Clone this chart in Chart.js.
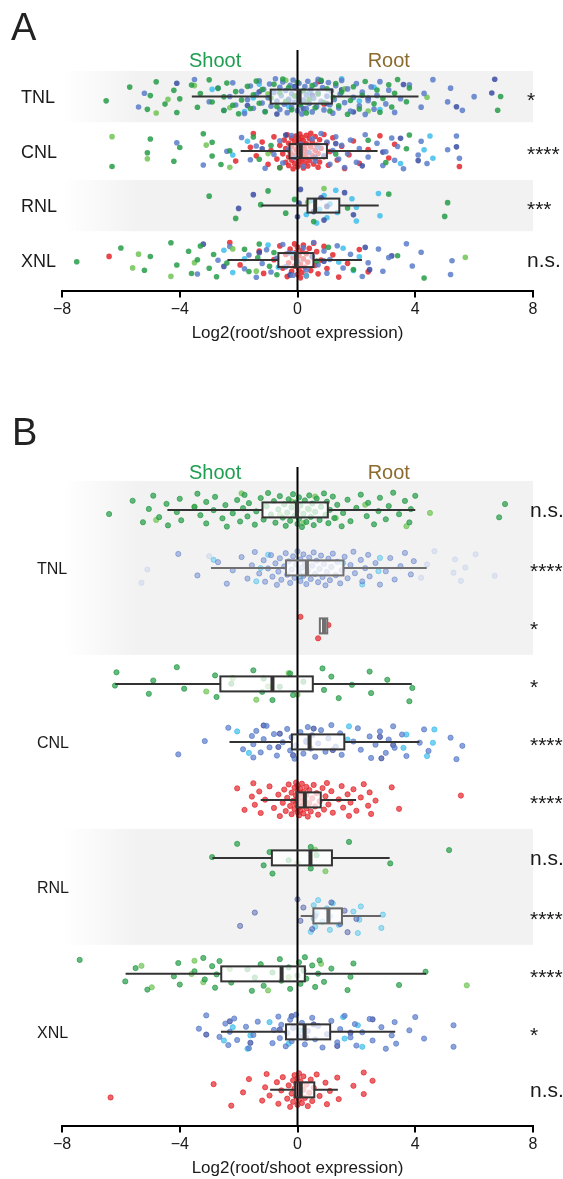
<!DOCTYPE html>
<html>
<head>
<meta charset="utf-8">
<title>Log2 root/shoot expression</title>
<script src="https://cdn.jsdelivr.net/npm/chart.js@4.4.1/dist/chart.umd.min.js"></script>
<style>
  body { margin: 0; background: #fff; }
  #wrap { position: relative; width: 563px; height: 1179px; }
  canvas { position: absolute; left: 0; }
  #chartA { top: 0; }
  #chartB { top: 400px; }
</style>
</head>
<body>
<div id="wrap">
  <canvas id="chartA" width="563" height="344"></canvas>
  <canvas id="chartB" width="563" height="779"></canvas>
</div>
<script>
// ---- Panel A: all genes, one row per NLR class ----
const aRowLabels = ['TNL', 'CNL', 'RNL', 'XNL'];
const aSignif = ['*', '****', '***', 'n.s.'];
// whisker low, Q1, median, Q3, whisker high
const aBoxStats = [
  [-3.59, -0.91, 0.07, 1.17, 4.11],
  [-1.93, -0.27, 0.11, 1.0, 2.72],
  [-1.23, 0.34, 0.6, 1.42, 2.76],
  [-2.38, -0.65, -0.05, 0.54, 2.19]
];

const aTnlGreen = [-6.5, -5.7, -5.1, -5.0, -4.8, -4.5, -4.2, -4.1, -4.0, -3.6, -3.4, -3.3, -3.0, -2.9, -2.7, -2.5, -2.5, -2.4, -2.2, -2.1, -2.0, -1.9, -1.7, -1.6, -1.5, -1.4, -1.3, -1.2, -1.1, -0.9, -0.8, -0.7, -0.6, -0.5, -0.4, -0.3, -0.2, -0.1, 0.0, 0.1, 0.2, 0.3, 0.4, 0.5, 0.6, 0.7, 0.8, 0.9, 1.0, 1.1, 1.2, 1.3, 1.4, 1.5, 1.7, 1.8, 1.9, 2.1, 2.2, 2.3, 2.6, 2.7, 2.8, 2.9, 3.1, 3.2, 3.3, 3.4, 3.7, 3.8, 6.8, 6.9];
const aTnlLime = [-4.8, -4.4, -3.5, -2.3, -1.0, -0.4, 0.3, 1.6, 2.4, 4.4];
const aTnlBlue = [-5.4, -5.2, -3.5, -3.0, -2.7, -2.5, -2.3, -2.2, -2.1, -1.9, -1.8, -1.7, -1.6, -1.5, -1.4, -1.3, -1.2, -1.15, -1.1, -1.0, -0.95, -0.9, -0.8, -0.75, -0.7, -0.6, -0.6, -0.55, -0.5, -0.45, -0.4, -0.35, -0.3, -0.25, -0.2, -0.2, -0.15, -0.1, -0.05, 0.0, 0.0, 0.05, 0.1, 0.1, 0.15, 0.2, 0.25, 0.3, 0.3, 0.35, 0.4, 0.45, 0.5, 0.55, 0.6, 0.65, 0.7, 0.7, 0.8, 0.85, 0.9, 1.0, 1.05, 1.1, 1.15, 1.2, 1.25, 1.3, 1.4, 1.45, 1.5, 1.6, 1.7, 1.8, 1.9, 2.0, 2.1, 2.2, 2.3, 2.4, 2.5, 2.6, 2.7, 2.8, 3.0, 3.1, 3.3, 3.5, 3.8, 4.2, 4.3, 4.6, 5.1, 5.2, 5.6, 6.0];
const aTnlNavy = [-4.1, -1.7, -1.3, -0.7, -0.3, -0.1, 0.2, 0.5, 0.8, 1.0, 1.5, 1.9, 2.4, 3.6, 5.4, 6.6, 6.7];
const aTnlCyan = [-2.9, -1.8, -1.5, -1.3, -0.3, 0.4, 1.5, 2.1, 2.6, 2.8];
const aTnlRed = [0.0, 0.7, 0.9];

const aCnlGreen = [-6.3, -5.1, -5.0, -4.2, -4.0, -3.2, -2.9, -2.9, -2.6, -2.3, -1.5, -1.3, -0.9, -0.6, 1.3, 2.4, 3.0, 3.7, 3.8];
const aCnlLime = [-6.3, -5.1, -3.1, -2.3, -1.0];
const aCnlBlue = [-4.1, -3.2, -2.4, -1.9, -1.6, -1.4, -1.1, -0.8, -0.6, -0.5, -0.3, -0.2, -0.1, 0.1, 0.2, 0.4, 0.5, 0.6, 0.7, 0.8, 0.9, 1.0, 1.1, 1.2, 1.3, 1.4, 1.5, 1.6, 1.7, 1.8, 2.0, 2.1, 2.3, 2.4, 2.7, 2.9, 3.0, 3.2, 3.3, 3.4, 3.6, 4.1, 4.2, 4.4, 5.1, 5.4, 5.5];
const aCnlNavy = [-1.2, -0.4, 0.6, 1.3, 2.2, 2.9, 3.5, 4.1, 5.4];
const aCnlCyan = [-2.2, -1.7, 3.5, 4.3, 4.5, 4.6];
const aCnlRed = [-2.1, -1.6, -1.5, -1.4, -1.2, -1.0, -0.9, -0.8, -0.7, -0.6, -0.6, -0.5, -0.45, -0.4, -0.4, -0.35, -0.3, -0.3, -0.3, -0.25, -0.2, -0.2, -0.2, -0.15, -0.15, -0.1, -0.1, -0.05, -0.05, 0.0, 0.0, 0.0, 0.02, 0.05, 0.05, 0.05, 0.08, 0.1, 0.1, 0.1, 0.12, 0.15, 0.15, 0.18, 0.2, 0.2, 0.2, 0.25, 0.25, 0.3, 0.3, 0.3, 0.35, 0.35, 0.4, 0.4, 0.45, 0.45, 0.5, 0.5, 0.55, 0.6, 0.6, 0.6, 0.65, 0.7, 0.7, 0.75, 0.75, 0.8, 0.9, 0.9, 1.0, 1.05, 1.1, 1.2, 1.35, 1.5, 1.6, 1.75, 1.9, 2.1, 2.4, 2.8, 3.1, 3.3, 5.5];

const aRnlGreen = [-3.0, -2.1, -1.25, -1.0, -0.4, -0.1, 0.55, 1.7, 3.1, 5.0, 5.1];
const aRnlLime = [0.35, 0.9];
const aRnlNavy = [-2.0, -1.5, 0.0, 0.05, 0.1, 0.55, 0.8, 0.9, 1.0, 1.6, 1.9];
const aRnlCyan = [0.3, 0.45, 0.65, 0.75, 0.9, 1.0, 1.1, 1.3, 1.35, 1.85, 2.0, 2.0, 2.75, 2.8];

const aXnlGreen = [-7.5, -6.0, -5.2, -5.0, -4.3, -4.1, -3.7, -3.6, -3.4, -3.3, -3.0, -2.85, -2.75, -2.4, -1.8, -1.65, -1.35, -1.3, -0.95, -0.8, -0.7, 0.65, 1.05, 1.9, 3.4, 4.3];
const aXnlLime = [-5.6, -5.4, -4.3, -3.5, -2.2, -1.4, 5.7];
const aXnlBlue = [-3.4, -2.7, -2.3, -1.8, -1.65, -1.4, -1.2, -1.05, -0.9, -0.7, -0.5, -0.4, -0.3, -0.15, 0.0, 0.2, 0.3, 0.5, 0.55, 0.7, 0.9, 1.0, 1.1, 1.35, 1.55, 1.8, 2.2, 2.4, 2.75, 2.9, 3.1, 3.7, 3.9, 4.2, 5.2, 5.25];
const aXnlNavy = [-3.2, -2.5, -1.3, -0.25, 0.9, 2.3, 2.45, 3.2];
const aXnlCyan = [-2.5, -2.2, -1.8, -1.0, -0.65, -0.15, 0.3, 1.4, 1.55, 1.9, 2.1];
const aXnlRed = [-6.4, -2.3, -1.95, -1.3, -1.15, -0.8, -0.6, -0.5, -0.4, -0.35, -0.3, -0.25, -0.2, -0.15, -0.1, -0.1, -0.05, 0.0, 0.0, 0.0, 0.05, 0.05, 0.1, 0.1, 0.15, 0.15, 0.2, 0.2, 0.25, 0.3, 0.3, 0.35, 0.4, 0.45, 0.5, 0.55, 0.6, 0.65, 0.7, 0.8, 0.9, 1.0, 1.2, 1.4, 1.7, 2.1, 2.4];

// ---- Panel B: split by species group, three rows per class (RNL has two) ----
const bGroupLabels = ['TNL', 'CNL', 'RNL', 'XNL'];
const bGroupRows = [1, 4, 6.5, 9];
const bSignif = ['n.s.', '****', '*', '*', '****', '****', 'n.s.', '****', '****', '*', 'n.s.'];
const bBoxStats = [
  [-4.42, -1.19, -0.02, 1.03, 4.0],
  [-2.94, -0.39, 0.32, 1.56, 4.39],
  [0.76, 0.76, 0.9, 1.01, 1.01],
  [-6.19, -2.62, -0.85, 0.52, 3.88],
  [-2.31, -0.19, 0.41, 1.59, 4.14],
  [-1.25, -0.03, 0.25, 0.79, 1.99],
  [-2.89, -0.87, 0.44, 1.17, 3.13],
  [0.11, 0.54, 1.05, 1.51, 2.83],
  [-5.84, -2.59, -0.54, 0.25, 4.37],
  [-2.6, -0.39, 0.24, 1.11, 3.32],
  [-0.93, -0.08, 0.11, 0.57, 1.37]
];

const bTnlGreen = [-6.4, -5.6, -5.25, -5.05, -4.9, -4.7, -4.45, -4.4, -4.1, -4.0, -3.95, -3.5, -3.4, -3.3, -3.1, -3.1, -2.85, -2.8, -2.55, -2.45, -2.4, -2.2, -2.05, -1.95, -1.85, -1.8, -1.7, -1.65, -1.45, -1.4, -1.25, -1.15, -1.05, -1.0, -0.9, -0.8, -0.75, -0.65, -0.6, -0.5, -0.45, -0.4, -0.35, -0.3, -0.25, -0.2, -0.15, -0.1, -0.05, 0.0, 0.0, 0.05, 0.05, 0.1, 0.15, 0.2, 0.25, 0.3, 0.35, 0.4, 0.45, 0.5, 0.55, 0.6, 0.65, 0.75, 0.8, 0.9, 0.95, 1.0, 1.05, 1.1, 1.2, 1.25, 1.35, 1.5, 1.55, 1.7, 1.8, 2.0, 2.15, 2.35, 2.4, 2.6, 2.75, 2.8, 3.0, 3.1, 3.25, 3.45, 3.65, 3.8, 3.85, 4.0, 6.85, 7.05];
const bTnlLime = [-4.8, -3.5, -1.9, -0.6, -0.2, 0.2, 0.4, 0.6, 1.3, 2.3, 3.7, 4.5];
const bTnlBlue = [-4.05, -3.4, -2.7, -2.4, -2.2, -1.9, -1.7, -1.55, -1.45, -1.3, -1.15, -1.1, -1.0, -0.9, -0.85, -0.75, -0.7, -0.65, -0.6, -0.55, -0.45, -0.4, -0.35, -0.3, -0.25, -0.2, -0.15, -0.1, -0.05, 0.0, 0.05, 0.1, 0.1, 0.15, 0.2, 0.2, 0.25, 0.3, 0.35, 0.4, 0.45, 0.5, 0.55, 0.6, 0.65, 0.7, 0.75, 0.8, 0.85, 0.9, 0.95, 1.0, 1.05, 1.1, 1.15, 1.2, 1.3, 1.35, 1.45, 1.5, 1.6, 1.7, 1.8, 1.9, 1.95, 2.15, 2.2, 2.3, 2.4, 2.45, 2.65, 2.8, 3.0, 3.15, 3.3, 3.5, 3.65, 3.85, 3.95];
const bTnlCyan = [-2.85, -1.4, -1.25, -1.0, 0.1, 1.55, 2.2, 2.75, 2.8];
const bTnlPale = [-5.3, -5.1, -3.0, 4.2, 4.4, 4.65, 5.3, 5.35, 5.55, 5.7, 6.05, 6.7];
const bTnlRed = [0.1, 0.7, 1.05];

const bCnlGreen = [-6.2, -6.15, -5.05, -4.9, -4.1, -3.85, -2.8, -2.75, -2.25, -1.5, -1.2, -1.15, -0.85, -0.6, -0.25, -0.15, 0.2, 0.85, 0.9, 1.15, 1.4, 1.85, 2.45, 2.5, 3.05, 3.8, 3.9];
const bCnlLime = [-3.1, -2.2, -1.4, -1.0, -0.3, 0.0];
const bCnlBlue = [-4.05, -3.15, -2.35, -1.85, -1.55, -1.5, -1.5, -1.4, -1.25, -1.15, -1.05, -0.95, -0.8, -0.7, -0.5, -0.35, -0.25, -0.2, -0.1, -0.05, 0.1, 0.2, 0.3, 0.35, 0.45, 0.5, 0.6, 0.7, 0.8, 0.95, 1.05, 1.15, 1.3, 1.45, 1.5, 1.9, 2.05, 2.15, 2.45, 2.5, 2.65, 2.8, 3.0, 3.1, 3.25, 3.3, 3.55, 3.7, 4.15, 4.3, 4.45, 5.2, 5.4, 5.6];
const bCnlNavy = [-1.15, -0.65, -0.6, -0.15, 0.3, 0.55, 1.2, 2.8, 2.85, 3.25];
const bCnlCyan = [-2.05, -1.65, 1.7, 1.75, 3.6, 3.7, 4.4, 4.6, 4.65];
const bCnlRed = [-2.05, -1.8, -1.55, -1.5, -1.45, -1.3, -1.25, -1.1, -0.95, -0.8, -0.65, -0.6, -0.5, -0.45, -0.4, -0.35, -0.3, -0.25, -0.2, -0.2, -0.15, -0.1, -0.1, -0.05, -0.05, -0.05, 0.0, 0.0, 0.0, 0.0, 0.05, 0.05, 0.05, 0.1, 0.1, 0.1, 0.15, 0.15, 0.2, 0.2, 0.2, 0.25, 0.3, 0.3, 0.3, 0.35, 0.4, 0.4, 0.45, 0.5, 0.55, 0.6, 0.65, 0.7, 0.75, 0.85, 0.9, 0.95, 1.0, 1.05, 1.15, 1.2, 1.4, 1.5, 1.55, 1.7, 1.75, 1.8, 1.9, 2.0, 2.15, 2.25, 2.4, 2.45, 2.5, 2.65, 3.2, 3.45, 5.55];

const bRnlGreen = [-2.9, -2.05, -1.15, -0.95, -0.85, -0.3, 0.45, 0.45, 0.65, 1.75, 3.15, 5.15];
const bRnlLime = [0.0, 0.6, 0.95];
const bRnlNavy = [-1.95, -1.45, 0.0, 0.1, 0.2, 0.5, 0.6, 1.15, 1.45, 1.6, 1.7, 2.0];
const bRnlCyan = [0.45, 0.55, 0.55, 0.6, 0.65, 0.7, 0.85, 1.0, 1.1, 1.1, 1.2, 1.4, 1.9, 2.05, 2.1, 2.15, 2.85, 2.9];

const bXnlGreen = [-7.4, -5.85, -5.5, -5.1, -4.2, -4.05, -4.0, -3.5, -3.2, -3.15, -2.9, -2.8, -2.75, -2.65, -2.25, -1.7, -1.55, -1.45, -1.25, -1.15, -0.85, -0.6, -0.55, -0.3, -0.25, 0.0, 0.05, 0.1, 0.2, 0.25, 0.3, 0.5, 0.6, 0.7, 0.75, 0.9, 1.15, 1.7, 1.8, 1.9, 3.45, 4.35];
const bXnlLime = [-5.3, -4.95, -3.6, -3.5, -3.2, -2.3, -1.0, -0.3, 0.8, 5.75];
const bXnlBlue = [-3.35, -3.1, -2.65, -2.45, -2.35, -2.3, -2.15, -2.05, -1.75, -1.65, -1.5, -1.35, -0.85, -0.8, -0.65, -0.6, -0.55, -0.4, -0.35, -0.25, -0.2, -0.15, -0.05, 0.05, 0.15, 0.25, 0.35, 0.5, 0.6, 0.7, 0.85, 1.0, 1.15, 1.35, 1.45, 1.6, 1.8, 1.95, 2.0, 2.2, 2.45, 2.55, 2.85, 3.0, 3.2, 3.3, 3.35, 3.8, 4.0, 4.3, 5.3, 5.3];
const bXnlNavy = [-3.1, -2.3, -1.6, -0.6, -0.2, 0.3, 0.55, 1.35, 1.8, 2.55];
const bXnlCyan = [-2.5, -2.2, -1.7, -1.6, -0.95, -0.3, 0.1, 1.55, 1.6, 2.05, 2.2];
const bXnlRed = [-6.35, -2.85, -2.25, -1.85, -1.65, -1.2, -1.1, -1.05, -0.95, -0.7, -0.65, -0.55, -0.5, -0.35, -0.3, -0.25, -0.2, -0.15, -0.15, -0.1, -0.1, -0.05, -0.05, 0.0, 0.0, 0.0, 0.05, 0.05, 0.05, 0.1, 0.1, 0.15, 0.2, 0.2, 0.25, 0.3, 0.35, 0.4, 0.45, 0.5, 0.55, 0.65, 0.75, 0.95, 1.0, 1.1, 1.35, 1.4, 1.9, 2.25, 2.25, 2.55];

// rows -> colour groups
const aRows = [
  [['green', aTnlGreen], ['blue', aTnlBlue], ['lime', aTnlLime], ['navy', aTnlNavy], ['cyan', aTnlCyan], ['red', aTnlRed]],
  [['green', aCnlGreen], ['lime', aCnlLime], ['blue', aCnlBlue], ['navy', aCnlNavy], ['cyan', aCnlCyan], ['red', aCnlRed]],
  [['green', aRnlGreen], ['lime', aRnlLime], ['navy', aRnlNavy], ['cyan', aRnlCyan]],
  [['green', aXnlGreen], ['lime', aXnlLime], ['blue', aXnlBlue], ['navy', aXnlNavy], ['cyan', aXnlCyan], ['red', aXnlRed]]
];
const bRows = [
  [['green', bTnlGreen], ['lime', bTnlLime]],
  [['pale', bTnlPale], ['blue', bTnlBlue], ['cyan', bTnlCyan]],
  [['red', bTnlRed]],
  [['green', bCnlGreen], ['lime', bCnlLime]],
  [['blue', bCnlBlue], ['navy', bCnlNavy], ['cyan', bCnlCyan]],
  [['red', bCnlRed]],
  [['green', bRnlGreen], ['lime', bRnlLime]],
  [['navy', bRnlNavy], ['cyan', bRnlCyan]],
  [['green', bXnlGreen], ['lime', bXnlLime]],
  [['blue', bXnlBlue], ['navy', bXnlNavy], ['cyan', bXnlCyan]],
  [['red', bXnlRed]]
];

const palette = {
  green: [38, 156, 72],
  lime: [112, 196, 86],
  blue: [90, 124, 202],
  navy: [58, 78, 162],
  cyan: [62, 190, 236],
  red: [228, 38, 44],
  pale: [196, 208, 236]
};
const rgba = (c, a) => `rgba(${c[0]},${c[1]},${c[2]},${a})`;

// strip-plot jitter: a fixed low-discrepancy offset per point index (layout only)
function jitter(i, seed, half) {
  return ((((i + 1) * 0.6180339887 + seed) % 1) - 0.5) * 2 * half;
}

function buildDatasets(rows, half, radius, alphaFor, border) {
  const out = [];
  rows.forEach((groups, r) => {
    groups.forEach(([col, vals], g) => {
      const a = alphaFor(r);
      out.push({
        data: vals.map((v, i) => ({ x: v, y: r + jitter(i, r * 0.31 + g * 0.17, half) })),
        backgroundColor: rgba(palette[col], a),
        borderColor: rgba(palette[col], Math.min(1, a + 0.2)),
        borderWidth: border,
        pointRadius: radius,
        pointHoverRadius: radius
      });
    });
  });
  return out;
}

const font = 'Liberation Sans, Arial, Helvetica, sans-serif';
Chart.defaults.font.family = font;

const stripDecor = {
  id: 'stripDecor',
  beforeDatasetsDraw(chart, args, o) {
    const { ctx, chartArea: a, scales: { y } } = chart;
    ctx.save();
    o.bands.forEach(([r0, r1]) => {
      const t = y.getPixelForValue(r0), b = y.getPixelForValue(r1);
      const g = ctx.createLinearGradient(a.left, 0, a.left + 75, 0);
      g.addColorStop(0, 'rgba(242,242,242,0)');
      g.addColorStop(1, 'rgba(242,242,242,1)');
      ctx.fillStyle = g;
      ctx.fillRect(a.left, Math.min(t, b), a.right - a.left, Math.abs(b - t));
    });
    ctx.restore();
  },
  afterDatasetsDraw(chart, args, o) {
    const { ctx, chartArea: a, scales: { x, y } } = chart;
    const h = o.boxHalf;
    ctx.save();
    // box fills sit over the points
    o.boxes.forEach((s, r) => {
      const cy = y.getPixelForValue(r);
      const q1 = x.getPixelForValue(s[1]), q3 = x.getPixelForValue(s[3]);
      ctx.fillStyle = o.boxFill;
      ctx.fillRect(q1, cy - h, q3 - q1, 2 * h);
    });
    // zero line
    const x0 = x.getPixelForValue(0);
    ctx.strokeStyle = '#000';
    ctx.lineWidth = 2;
    ctx.beginPath();
    ctx.moveTo(x0, a.top);
    ctx.lineTo(x0, a.bottom);
    ctx.stroke();
    // whiskers, box outline, median
    o.boxes.forEach((s, r) => {
      const cy = y.getPixelForValue(r);
      const [lo, q1, md, q3, hi] = s.map(v => x.getPixelForValue(v));
      ctx.strokeStyle = (o.boxColors && o.boxColors[r]) || '#333';
      ctx.lineWidth = 2;
      ctx.beginPath();
      ctx.moveTo(lo, cy); ctx.lineTo(q1, cy);
      ctx.moveTo(q3, cy); ctx.lineTo(hi, cy);
      ctx.stroke();
      ctx.strokeRect(q1, cy - h, q3 - q1, 2 * h);
      ctx.lineWidth = 4;
      ctx.beginPath();
      ctx.moveTo(md, cy - h); ctx.lineTo(md, cy + h);
      ctx.stroke();
    });
    // texts
    ctx.fillStyle = '#222';
    ctx.textAlign = 'left';
    ctx.textBaseline = 'alphabetic';
    ctx.font = `38px ${font}`;
    ctx.fillText(o.letter, o.letterX, o.letterY);

    ctx.font = `20px ${font}`;
    ctx.textAlign = 'center';
    ctx.textBaseline = 'middle';
    ctx.fillStyle = '#1f9e50';
    ctx.fillText('Shoot', x.getPixelForValue(-2.8), a.top + o.headerDy);
    ctx.fillStyle = '#8c6a2d';
    ctx.fillText('Root', x.getPixelForValue(3.1), a.top + o.headerDy);

    ctx.fillStyle = '#1a1a1a';
    ctx.textAlign = 'left';
    ctx.textBaseline = 'alphabetic';
    ctx.font = `${o.labelSize}px ${font}`;
    o.labels.forEach((lab, k) => {
      ctx.fillText(lab, o.labelX, y.getPixelForValue(o.labelRows[k]) + o.labelSize * 0.36);
    });

    ctx.font = `21px ${font}`;
    o.signif.forEach((s, r) => {
      const cy = y.getPixelForValue(r);
      ctx.fillText(s, o.signifX, cy + (s[0] === '*' ? 10 : 7));
    });
    ctx.restore();
  }
};

function xAxis() {
  return {
    type: 'linear',
    min: -8,
    max: 8,
    grid: { display: true, drawOnChartArea: false, drawTicks: true, tickLength: 6, color: '#000', lineWidth: 2 },
    border: { display: true, color: '#000', width: 2 },
    ticks: {
      stepSize: 4,
      padding: 3,
      color: '#1a1a1a',
      font: { size: 16 },
      callback: v => (v < 0 ? '\u2212' + Math.abs(v) : String(v))
    },
    title: {
      display: true,
      text: 'Log2(root/shoot expression)',
      color: '#1a1a1a',
      font: { size: 17 },
      padding: { top: 1, bottom: 0 }
    }
  };
}

function makeChart(id, datasets, yMin, yMax, padTop, decor) {
  return new Chart(document.getElementById(id), {
    type: 'scatter',
    data: { datasets },
    options: {
      responsive: false,
      animation: false,
      devicePixelRatio: 1,
      events: [],
      layout: { padding: { left: 62, right: 30, top: padTop, bottom: 0 } },
      scales: {
        x: xAxis(),
        y: { type: 'linear', reverse: true, min: yMin, max: yMax, display: false }
      },
      plugins: {
        legend: { display: false },
        tooltip: { enabled: false },
        stripDecor: decor
      }
    },
    plugins: [stripDecor]
  });
}

makeChart('chartA',
  buildDatasets(aRows, 0.33, 2.8, () => 0.85, 0),
  -0.855, 3.575, 50,
  {
    letter: 'A', letterX: 11, letterY: 40,
    headerDy: 11,
    bands: [[-0.47, 0.47], [1.53, 2.47]],
    boxes: aBoxStats,
    boxHalf: 7,
    boxFill: 'rgba(255,255,255,0.55)',
    labels: aRowLabels, labelRows: [0, 1, 2, 3], labelX: 21, labelSize: 18,
    signif: aSignif, signifX: 527
  });

const bGray = [null, '#707070', '#707070', null, null, null, null, '#666', null, null, null];
makeChart('chartB',
  buildDatasets(bRows, 0.3, 2.6, r => (r === 1 || r === 7 ? 0.45 : 0.7), 0.8),
  -0.74, 10.63, 67,
  {
    letter: 'B', letterX: 12, letterY: 45,
    headerDy: 6,
    bands: [[-0.5, 2.5], [5.5, 7.5]],
    boxes: bBoxStats,
    boxColors: bGray,
    boxHalf: 7.5,
    boxFill: 'rgba(255,255,255,0.72)',
    labels: bGroupLabels, labelRows: bGroupRows, labelX: 37, labelSize: 16,
    signif: bSignif, signifX: 530
  });
</script>
</body>
</html>
